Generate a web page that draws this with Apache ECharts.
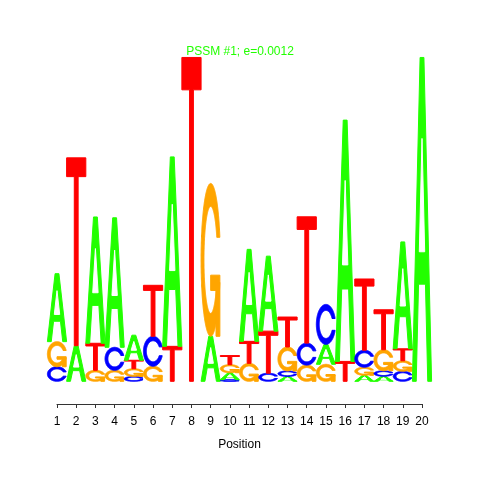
<!DOCTYPE html>
<html>
<head>
<meta charset="utf-8">
<script src="https://cdn.jsdelivr.net/npm/echarts@6/dist/echarts.min.js"></script>
<style>html,body{margin:0;padding:0;background:#fff;}#c{width:480px;height:480px;}</style>
</head>
<body>
<div id="c"></div>
<script>
// Positions and information content (bits) of each base per position
var positions = [1,2,3,4,5,6,7,8,9,10,11,12,13,14,15,16,17,18,19,20];
var heightA = [0.42,0.22,0.78,0.80,0.155,0,1.17,0,0.278,0.043,0.568,0.463,0.03,0,0.123,1.49,0.037,0.031,0.66,2.0];
var heightC = [0.09,0,0,0.142,0.03,0.185,0,0,0,0.01,0,0.05,0.034,0.136,0.247,0,0.105,0.034,0.062,0];
var heightG = [0.155,0,0.068,0.068,0.048,0.093,0,0,0.944,0.05,0.111,0,0.148,0.1,0.105,0,0.05,0.13,0.065,0];
var heightT = [0,1.16,0.167,0,0.052,0.315,0.216,2.0,0,0.056,0.136,0.26,0.185,0.78,0,0.123,0.44,0.247,0.074,0];
var xTicks = [1,2,3,4,5,6,7,8,9,10,11,12,13,14,15,16,17,18,19,20];
var letters = ['A','C','G','T'];
var titleText = 'PSSM #1; e=0.0012';
var axisName = 'Position';

var colors = {A:'#22FF00', C:'#0000FF', G:'#FFA500', T:'#FF0000'};

// letter shapes in unit box (seqLogo style)
function seqPts(a,b,n){var r=[];for(var i=0;i<n;i++)r.push(a+(b-a)*i/(n-1));return r;}
function buildC(){
  var a1=seqPts(0.3+Math.PI/2,Math.PI,100), a2=seqPts(Math.PI,1.5*Math.PI,100);
  var xl=[],yl=[],i;
  for(i=0;i<a1.length;i++){xl.push(0.5+0.5*Math.sin(a1[i]));yl.push(0.5+0.5*Math.cos(a1[i]));}
  var maxYl1=Math.max.apply(null,yl.slice());
  for(i=0;i<a2.length;i++){xl.push(0.5+0.5*Math.sin(a2[i]));yl.push(0.5+0.5*Math.cos(a2[i]));}
  var x=xl.concat(xl.slice().reverse());
  var y=yl.concat(yl.slice().reverse().map(function(v){return 1-v;}));
  var xi1=[],yi1=[];
  for(i=0;i<a1.length;i++){var yy=0.5+0.35*Math.cos(a1[i]);if(yy<=maxYl1){xi1.push(0.5+0.35*Math.sin(a1[i]));yi1.push(yy);}}
  yi1[0]=maxYl1;
  var xi=xi1.slice(),yi=yi1.slice();
  for(i=0;i<a2.length;i++){xi.push(0.5+0.35*Math.sin(a2[i]));yi.push(0.5+0.35*Math.cos(a2[i]));}
  var x1=xi.concat(xi.slice().reverse());
  var y1=yi.concat(yi.slice().reverse().map(function(v){return 1-v;}));
  x=x.concat(x1.slice().reverse());y=y.concat(y1.slice().reverse());
  var pts=[];for(i=0;i<x.length;i++)pts.push([x[i],y[i]]);
  var r1=0;for(i=0;i<a1.length;i++)r1=Math.max(r1,0.5+0.5*Math.sin(a1[i]));
  return {pts:pts,r1:r1};
}
var Cshape=buildC();
var h1=0.4, r1=Cshape.r1;
var Gadd=[[r1,h1],[0.5,h1],[0.5,h1-0.1],[r1-0.2,h1-0.1],[r1-0.2,0],[r1,0],[r1,h1]];
var shapes={
  A:[{pts:[[0,0],[0.4,1],[0.6,1],[1,0],[0.8,0],[0.68,0.3],[0.32,0.3],[0.2,0],[0,0]],fill:null},
     {pts:[[0.36,0.4],[0.5,0.75],[0.64,0.4],[0.36,0.4]],fill:'#FFFFFF'}],
  T:[{pts:[[0,1],[1,1],[1,0.9],[0.6,0.9],[0.6,0],[0.4,0],[0.4,0.9],[0,0.9]],fill:null}],
  C:[{pts:Cshape.pts,fill:null}],
  G:[{pts:Cshape.pts,fill:null},{pts:Gadd,fill:null}]
};

// build stacked data: [pos, letterIdx, y0, y1]
var hs={A:heightA,C:heightC,G:heightG,T:heightT};
var data=[];
positions.forEach(function(p,i){
  var items=letters.map(function(L,k){return {L:L,k:k,h:hs[L][i]};}).filter(function(o){return o.h>0;});
  items.sort(function(a,b){return a.h-b.h;});
  var y0=0;
  items.forEach(function(o){data.push([p,o.k,y0,y0+o.h]);y0+=o.h;});
});

var chart=echarts.init(document.getElementById('c'),null,{renderer:'canvas'});
chart.setOption({
  animation:false,
  backgroundColor:'#ffffff',
  title:{text:titleText,left:'center',top:46,padding:0,textStyle:{color:'#22FF00',fontSize:12,fontWeight:'normal',fontFamily:'Liberation Sans, Arial, sans-serif'}},
  grid:{left:57,right:58,top:44.5,bottom:76},
  xAxis:{type:'value',min:1,max:20,interval:1,
    axisLine:{show:true,onZero:false,lineStyle:{color:'#333',width:1}},
    axisTick:{show:true,length:4,lineStyle:{color:'#333'}},
    axisLabel:{color:'#000',fontSize:12,margin:12,fontFamily:'Liberation Sans, Arial, sans-serif',
      formatter:function(v){return xTicks.indexOf(v)>=0?String(v):'';}},
    splitLine:{show:false},
    name:axisName,nameLocation:'middle',nameGap:35,
    nameTextStyle:{color:'#000',fontSize:12,fontFamily:'Liberation Sans, Arial, sans-serif'}},
  yAxis:{type:'value',min:-0.14,max:2.08,show:false,splitLine:{show:false}},
  series:[{
    type:'custom',clip:false,
    data:data,
    encode:{x:0,y:[2,3]},
    renderItem:function(params,api){
      var p=api.value(0),k=api.value(1),y0=api.value(2),y1=api.value(3);
      var L=letters[k];
      var left=api.coord([p-0.5,y0])[0], right=api.coord([p+0.5,y0])[0];
      var base=api.coord([p,y0])[1], top=api.coord([p,y1])[1];
      var wt=right-left, ht=base-top;
      var children=shapes[L].map(function(s){
        var fill=s.fill||colors[L];
        return {type:'polygon',shape:{points:s.pts.map(function(q){return [left+wt*q[0],base-ht*q[1]];})},
          style:{fill:fill,stroke:fill,lineWidth:1}};
      });
      return {type:'group',children:children};
    }
  }]
});
</script>
</body>
</html>
